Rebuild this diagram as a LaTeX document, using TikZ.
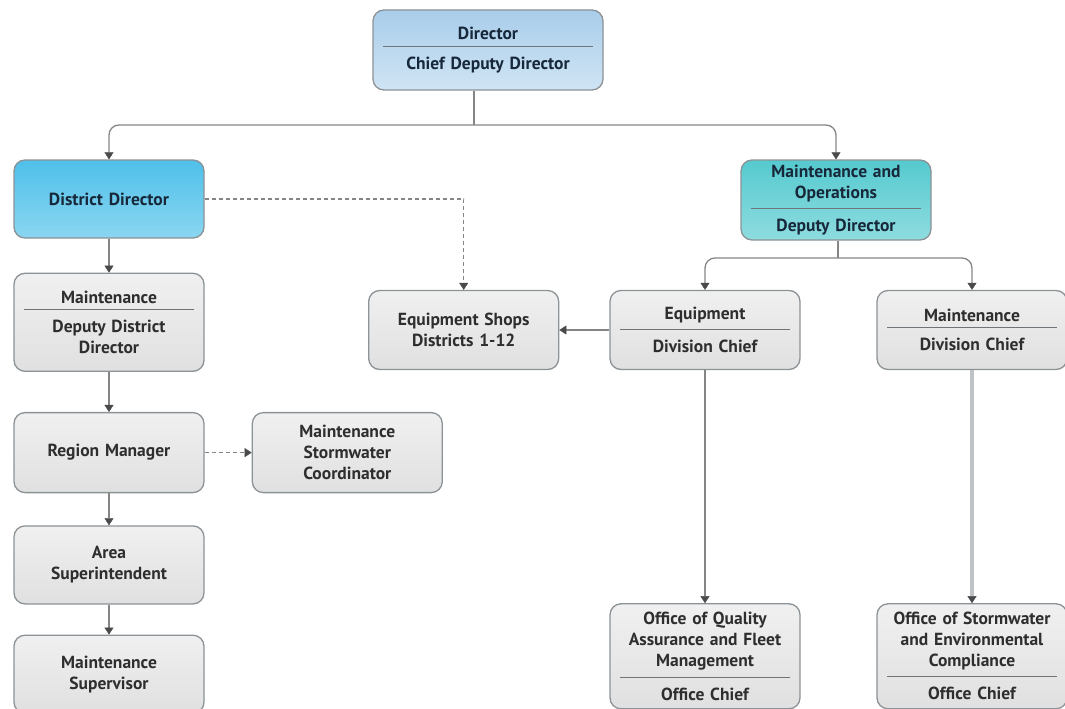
\documentclass[tikz,border=0pt]{standalone}
\usepackage{fontspec}
\setmainfont{PT Sans}
\usetikzlibrary{positioning,arrows.meta}

\definecolor{boxline}{HTML}{8C9296}
\definecolor{grayA}{HTML}{F0F0F0}
\definecolor{grayB}{HTML}{E0E0E0}
\definecolor{dirA}{HTML}{A9CDEA}
\definecolor{dirB}{HTML}{CFE4F4}
\definecolor{ddA}{HTML}{4FC0E9}
\definecolor{ddB}{HTML}{8AD6F1}
\definecolor{moA}{HTML}{55CACF}
\definecolor{moB}{HTML}{8EDCDF}
\definecolor{navytext}{HTML}{17283A}
\definecolor{graytext}{HTML}{2E2E2E}
\definecolor{rulecol}{HTML}{6E7478}
\definecolor{linkcol}{HTML}{858585}
\definecolor{tipcol}{HTML}{4A4A4A}

\newcommand{\orgfont}{\fontsize{17.5}{21}\selectfont\bfseries}
\newcommand{\orgrule}{\par\vspace{6pt}{\color{rulecol}\hrule height 1pt}\vspace{10pt}}

\tikzset{
  orgbox/.style={rectangle, rounded corners=11pt, draw=boxline, line width=1.3pt,
    align=center, inner xsep=10pt, inner ysep=3pt, text width=170pt,
    minimum height=78pt, font=\orgfont},
  graybox/.style={orgbox, top color=grayA, bottom color=grayB, text=graytext},
  dirbox/.style={orgbox, top color=dirA, bottom color=dirB, text=navytext},
  ddbox/.style={orgbox, top color=ddA, bottom color=ddB, text=navytext},
  mobox/.style={orgbox, top color=moA, bottom color=moB, text=navytext},
  link/.style={draw=linkcol, line width=1.3pt},
  arrowlink/.style={link, -{Triangle[width=9pt,length=7pt,color=tipcol,line width=0.4pt]}},
  dashlink/.style={arrowlink, dash pattern=on 4pt off 3pt},
}

\begin{document}
\begin{tikzpicture}[x=1pt, y=-1pt]
    \useasboundingbox (0,0) rectangle (1065,709);

    % top
    \node[dirbox, text width=210pt, minimum height=80pt] (dir) at (488,50) {Director\orgrule Chief Deputy Director};

    % left column
    \node[ddbox] (dd) at (109,199) {District Director};
    \node[graybox, minimum height=98pt, below=34pt of dd] (mdd) {Maintenance\orgrule Deputy District\\Director};
    \node[graybox, minimum height=80pt, below=40pt of mdd] (rm) {Region Manager};
    \node[graybox, below=32pt of rm] (area) {Area\\Superintendent};
    \node[graybox, below=30pt of area] (sup) {Maintenance\\Supervisor};
    \node[graybox, minimum height=80pt, right=47pt of rm] (coord) {Maintenance\\Stormwater\\Coordinator};

    % right side
    \node[mobox, minimum height=80pt] (mo) at (836,200) {Maintenance and\\Operations\orgrule Deputy Director};
    \node[graybox, minimum height=79pt] (equip) at (705,330) {Equipment\orgrule Division Chief};
    \node[graybox, minimum height=79pt, left=50pt of equip] (shops) {Equipment Shops\\Districts 1-12};
    \node[graybox, minimum height=79pt] (rmaint) at (972,330) {Maintenance\orgrule Division Chief};
    \node[graybox, minimum height=105pt, below=233pt of equip] (oq) {Office of Quality\\Assurance and Fleet\\Management\orgrule Office Chief};
    \node[graybox, minimum height=105pt, below=233pt of rmaint] (os) {Office of Stormwater\\and Environmental\\Compliance\orgrule Office Chief};

    % connectors
    \coordinate (topsplit) at (474,125);
    \coordinate (mosplit) at (838,258);
    \draw[link] (dir.south -| topsplit) -- (topsplit);
    \draw[arrowlink, rounded corners=10pt] (topsplit) -| (dd.north);
    \draw[arrowlink, rounded corners=10pt] (topsplit) -| (mo.north);
    \draw[link] (mo.south -| mosplit) -- (mosplit);
    \draw[arrowlink, rounded corners=10pt] (mosplit) -| (equip.north);
    \draw[arrowlink, rounded corners=10pt] (mosplit) -| (rmaint.north);

    \draw[arrowlink] (dd) -- (mdd);
    \draw[arrowlink] (mdd) -- (rm);
    \draw[arrowlink] (rm) -- (area);
    \draw[arrowlink] (area) -- (sup);
    \draw[dashlink] (rm) -- (coord);
    \draw[dashlink] (dd.east) -| (shops.north);

    \draw[arrowlink] (equip) -- (shops);
    \draw[arrowlink] (equip) -- (oq);
    \draw[arrowlink, draw=boxline!55, line width=3.5pt] (rmaint) -- (os);
\end{tikzpicture}
\end{document}
